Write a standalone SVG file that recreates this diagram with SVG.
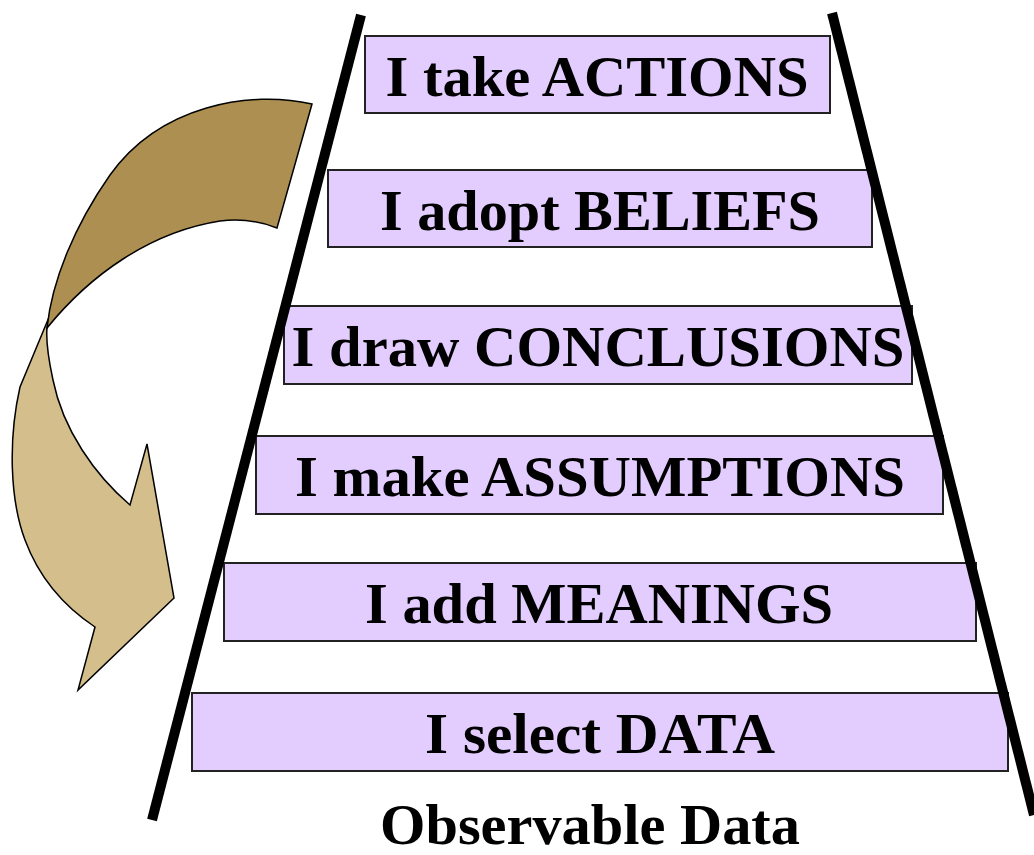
<svg xmlns="http://www.w3.org/2000/svg" width="1034" height="855" viewBox="0 0 1034 855">
<style>
.box{fill:#E3CCFE;stroke:#222;stroke-width:2}
.lbl{font-family:"Liberation Serif","Times New Roman",serif;font-weight:bold;font-size:57px;fill:#000;text-anchor:middle}
.rail{stroke:#000;stroke-width:10;fill:none}
.arrowDark{fill:#AD9051;stroke:#000;stroke-width:1.5;stroke-linejoin:miter}
.arrowLight{fill:#D4BE8C;stroke:#000;stroke-width:1.5;stroke-linejoin:miter}
</style>
<rect width="1034" height="855" fill="#fff"/>
<g id="arrow">
<path class="arrowLight" d="M 72,262 L 20,387 C 8,440 10,500 25,540 C 38,575 62,605 95,627 L 78,690 L 174,598 L 147,444 L 130,505 C 95,475 63,430 53,380 C 48,357 46,340 47,328 Z"/>
<path class="arrowDark" d="M 312,104 C 250,90 160,105 110,175 C 75,225 52,280 47,328 C 90,275 150,232 220,221 C 245,218 262,222 277,228 Z"/>
</g>
<g id="box1"><rect class="box" x="365" y="36" width="465" height="77"/><text class="lbl" x="597" y="96" textLength="423" lengthAdjust="spacingAndGlyphs">I take ACTIONS</text></g>
<g id="box2"><rect class="box" x="328" y="170" width="544" height="77"/><text class="lbl" x="600" y="230" textLength="440" lengthAdjust="spacingAndGlyphs">I adopt BELIEFS</text></g>
<g id="box3"><rect class="box" x="284" y="306" width="628" height="78"/><text class="lbl" x="598" y="366" textLength="613" lengthAdjust="spacingAndGlyphs">I draw CONCLUSIONS</text></g>
<g id="box4"><rect class="box" x="256" y="436" width="687" height="78"/><text class="lbl" x="600" y="496" textLength="610" lengthAdjust="spacingAndGlyphs">I make ASSUMPTIONS</text></g>
<g id="box5"><rect class="box" x="224" y="563" width="752" height="78"/><text class="lbl" x="599" y="623" textLength="468" lengthAdjust="spacingAndGlyphs">I add MEANINGS</text></g>
<g id="box6"><rect class="box" x="192" y="693" width="816" height="78"/><text class="lbl" x="600" y="753" textLength="350" lengthAdjust="spacingAndGlyphs">I select DATA</text></g>
<g id="connectors">
<line class="rail" x1="361" y1="15" x2="152" y2="820"/>
<line class="rail" x1="832" y1="13" x2="1034" y2="815"/>
</g>
<g id="footer"><text class="lbl" x="590" y="844" textLength="420" lengthAdjust="spacingAndGlyphs">Observable Data</text></g>
</svg>
